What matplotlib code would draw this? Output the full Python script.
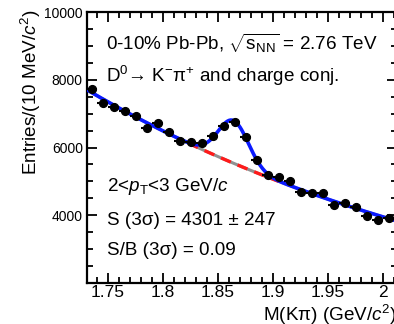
import numpy as np
import matplotlib
matplotlib.use("Agg")
import matplotlib.pyplot as plt
from matplotlib.ticker import MultipleLocator, FixedLocator, FuncFormatter

plt.rcParams["font.family"] = ["Liberation Sans", "DejaVu Sans"]
plt.rcParams["mathtext.fontset"] = "custom"
plt.rcParams["mathtext.rm"] = "Liberation Sans"
plt.rcParams["mathtext.it"] = "Liberation Sans:italic"
plt.rcParams["mathtext.bf"] = "Liberation Sans:bold"

# invariant mass bins (GeV/c^2) and entries per 10 MeV/c^2
mass = [1.735, 1.745, 1.755, 1.765, 1.775, 1.785, 1.795, 1.805, 1.815, 1.825,
        1.835, 1.845, 1.855, 1.865, 1.875, 1.885, 1.895, 1.905, 1.915, 1.925,
        1.935, 1.945, 1.955, 1.965, 1.975, 1.985, 1.995, 2.005, 2.015]
entries = [7720, 7300, 7190, 7080, 6930, 6590, 6710, 6470, 6190, 6150,
           6140, 6330, 6640, 6760, 6300, 5620, 5180, 5130, 5000, 4700,
           4650, 4650, 4300, 4350, 4250, 3980, 3860, 3910, 3710]

# fit parameters
bkg_x0 = 1.731
bkg_amp = 7700
bkg_slope = 2.48
sig_mean = 1.864
sig_sigma = 0.0137
sig_amp = 1260

mass = np.array(mass)
entries = np.array(entries)


def background(x):
    return bkg_amp * np.exp(-bkg_slope * (x - bkg_x0))


def total(x):
    return background(x) + sig_amp * np.exp(-0.5 * ((x - sig_mean) / sig_sigma) ** 2)


fig = plt.figure(figsize=(3.94, 3.24), dpi=100)
ax = fig.add_axes([87 / 394, 1 - 283 / 324, (397 - 87) / 394, (283 - 12) / 324])

xlo, xhi = 1.7309, 2.0127
xf = np.linspace(xlo, xhi, 400)
ax.plot(xf, background(xf), color="#909090", lw=2.2, zorder=2)
xs = np.linspace(sig_mean - 3 * sig_sigma, sig_mean + 3 * sig_sigma, 100)
ax.plot(xs, background(xs), color="#ff1a1a", lw=2.4, dashes=(3.2, 2.2), zorder=3)
ax.plot(xf, total(xf), color="#0a1aff", lw=2.6, zorder=4)

ax.errorbar(mass, entries, xerr=0.005, yerr=np.sqrt(entries), fmt="o",
            color="black", ms=5.6, elinewidth=1.5, capsize=0, zorder=5)

ax.set_xlim(xlo, xhi)
ax.set_ylim(2000, 10000)

ax.xaxis.set_major_locator(MultipleLocator(0.05))
ax.xaxis.set_minor_locator(MultipleLocator(0.01))
ax.yaxis.set_major_locator(FixedLocator([4000, 6000, 8000, 10000]))
ax.yaxis.set_minor_locator(MultipleLocator(500))
ax.xaxis.set_major_formatter(FuncFormatter(lambda v, p: "%g" % round(v, 2)))
ax.tick_params(which="both", direction="in", top=True, right=True, width=1.3)
ax.tick_params(which="major", length=7)
ax.tick_params(which="minor", length=4)
ax.tick_params(axis="x", labelsize=12.5, pad=1.5)
ax.tick_params(axis="y", labelsize=10, pad=3)
for s in ax.spines.values():
    s.set_linewidth(1.6)

fs = 13.6
fig.text(31 / 394, 1 - 9 / 324, r"Entries/(10 MeV/$c^{2}$)", rotation=90,
         ha="center", va="top", fontsize=fs)
fig.text(397 / 394, 1 - 315 / 324, r"M(Kπ) (GeV/$c^{2}$)",
         ha="right", va="center", fontsize=fs)

ax.text(1.748, 8880, r"0-10% Pb-Pb, $\sqrt{\mathrm{s}_{\mathrm{NN}}}$ = 2.76 TeV",
        fontsize=fs, va="baseline")
ax.text(1.748, 7934, r"D$^{0}$→ K$^{-}$π$^{+}$ and charge conj.",
        fontsize=fs, va="baseline")
ax.text(1.749, 4716, r"2<$p_{\mathrm{T}}$<3 GeV/$c$", fontsize=fs, va="baseline")
ax.text(1.749, 3712, "S (3σ) = 4301 ± 247", fontsize=fs, va="baseline")
ax.text(1.749, 2827, "S/B (3σ) = 0.09", fontsize=fs, va="baseline")

fig.savefig("out.png", dpi=100)
